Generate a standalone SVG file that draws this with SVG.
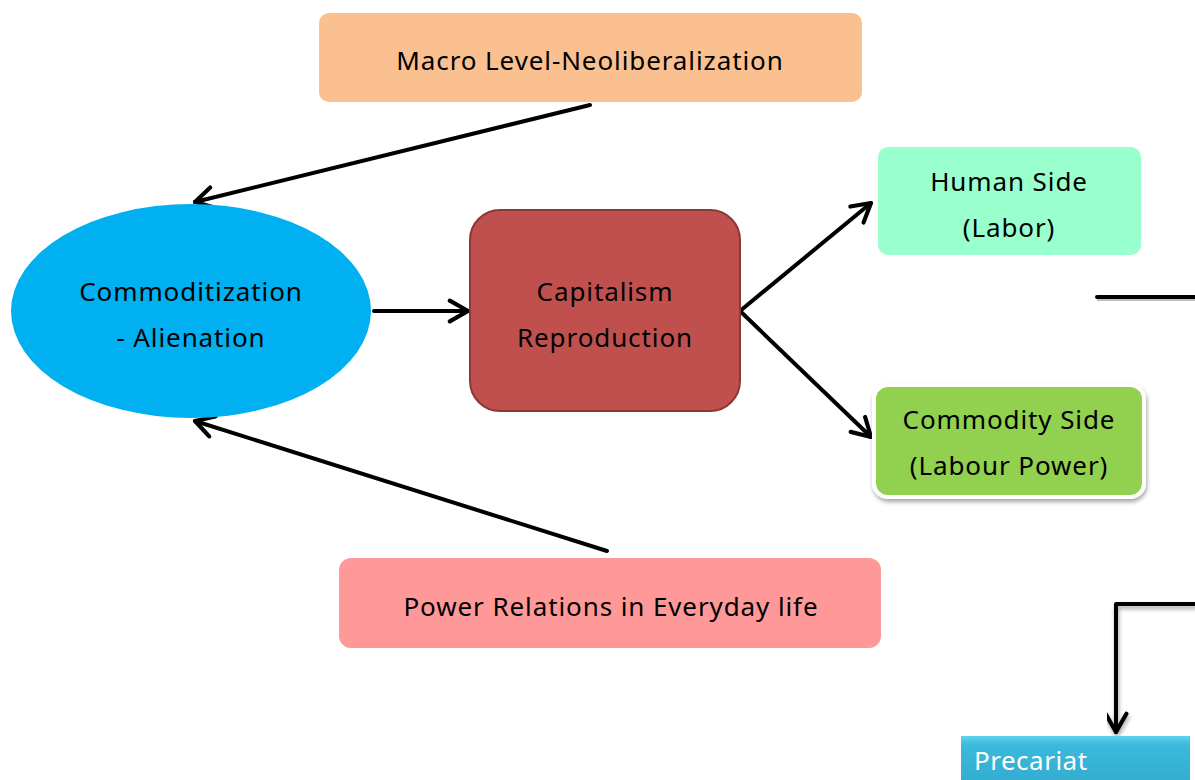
<svg xmlns="http://www.w3.org/2000/svg" width="1195" height="780" viewBox="0 0 1195 780">
<defs>
<style>
.t{font-family:"Noto Sans","Open Sans",sans-serif;font-size:26px;letter-spacing:0.9px;fill:#000;text-anchor:middle}
.c{stroke:#000;stroke-width:4;fill:none;stroke-linecap:round;stroke-linejoin:round}
</style>
<marker id="ah" viewBox="0 0 20 20" refX="17" refY="10" markerWidth="6.5" markerHeight="6.5" markerUnits="strokeWidth" orient="auto">
<path d="M3,2 L17,10 L3,18" fill="none" stroke="#000" stroke-width="3.2" stroke-linecap="round" stroke-linejoin="round"/>
</marker>
<linearGradient id="pg" x1="0" y1="0" x2="0" y2="1">
<stop offset="0" stop-color="#5FD3EE"/>
<stop offset="0.15" stop-color="#3CB9DC"/>
<stop offset="1" stop-color="#2FA8CC"/>
</linearGradient>
<filter id="sh" x="-10%" y="-10%" width="120%" height="130%">
<feDropShadow dx="1" dy="3" stdDeviation="2" flood-color="#000" flood-opacity="0.35"/>
</filter>
</defs>
<rect width="1195" height="780" fill="#fff"/>
<g id="connectors">
<line class="c" x1="590" y1="105" x2="195" y2="202" marker-end="url(#ah)"/>
<line class="c" x1="607" y1="551" x2="195" y2="421" marker-end="url(#ah)"/>
<line class="c" x1="374" y1="311" x2="468" y2="311" marker-end="url(#ah)"/>
<line class="c" x1="740" y1="311" x2="871" y2="203" marker-end="url(#ah)"/>
<line class="c" x1="740" y1="311" x2="871" y2="437" marker-end="url(#ah)"/>
<path d="M1097,299 H1197" stroke="#000" stroke-opacity="0.25" stroke-width="4" fill="none"/>
<path d="M1097,297 H1197" stroke="#000" stroke-width="4" fill="none" stroke-linecap="round"/>
<polyline class="c" points="1197,604 1116,604 1116,732" marker-end="url(#ah)" filter="url(#sh)"/>
</g>
<g id="macro">
<rect x="319" y="13" width="543" height="89" rx="10" fill="#FAC090"/>
<text class="t" x="590" y="70">Macro Level-Neoliberalization</text>
</g>
<g id="commoditization">
<ellipse cx="191" cy="311" rx="180" ry="107" fill="#00B0F0"/>
<text class="t" x="191" y="301">Commoditization</text>
<text class="t" x="191" y="347">- Alienation</text>
</g>
<g id="capitalism">
<rect x="470" y="210" width="270" height="201" rx="30" fill="#C0504D" stroke="#8C3836" stroke-width="2"/>
<text class="t" x="605" y="301">Capitalism</text>
<text class="t" x="605" y="347">Reproduction</text>
</g>
<g id="human">
<rect x="878" y="147" width="263" height="108" rx="10" fill="#99FFCC"/>
<text class="t" x="1009" y="191">Human Side</text>
<text class="t" x="1009" y="237">(Labor)</text>
</g>
<g id="commodity">
<rect x="874" y="385" width="270" height="112" rx="14" fill="#92D050" stroke="#fff" stroke-width="4" filter="url(#sh)"/>
<text class="t" x="1009" y="429">Commodity Side</text>
<text class="t" x="1009" y="475">(Labour Power)</text>
</g>
<g id="power">
<rect x="339" y="558" width="542" height="90" rx="12" fill="#FF9999"/>
<text class="t" x="611" y="616">Power Relations in Everyday life</text>
</g>
<g id="precariat">
<rect x="961" y="736" width="229" height="60" fill="url(#pg)"/>
<text x="974" y="770" style="font-family:'Noto Sans','Open Sans',sans-serif;font-size:26px;letter-spacing:0.5px;fill:#fff">Precariat</text>
</g>
</svg>
